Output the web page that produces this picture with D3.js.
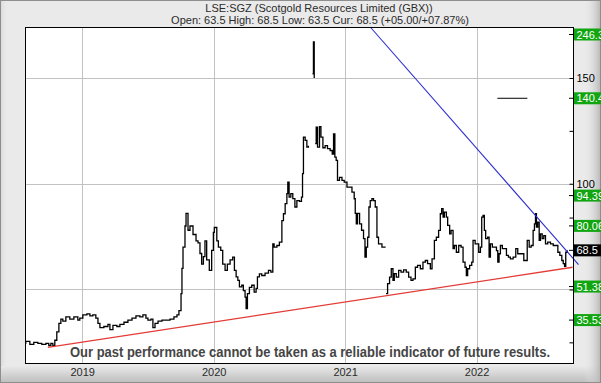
<!DOCTYPE html>
<html><head><meta charset="utf-8">
<script src="https://cdn.jsdelivr.net/npm/d3@7"></script>
<style>html,body{margin:0;padding:0;background:#eaeaea;}svg{display:block;font-family:"Liberation Sans",Arial,sans-serif;}</style>
</head><body>
<svg id="c" width="601" height="383"></svg>
<script>
// ---- data (decimal years, GBX) ----
const title = "LSE:SGZ (Scotgold Resources Limited (GBX))";
const subtitle = "Open: 63.5 High: 68.5 Low: 63.5 Cur: 68.5 (+05.00/+07.87%)";
const disclaimer = "Our past performance cannot be taken as a reliable indicator of future results.";
const yearTicks = [2019, 2020, 2021, 2022];
const gridValues = [50, 100, 150];
const labelledTicks = [100, 150];
const minorTicks = [25, 84, 125];
const dates = [
 2018.570,2018.571,2018.602,2018.632,2018.663,2018.693,2018.724,2018.746,2018.762,2018.777,2018.792,2018.807,2018.823,2018.838,2018.853,2018.876,2018.906,2018.937,2018.967,2018.982,
 2019.005,2019.036,2019.059,2019.081,2019.104,2019.120,2019.135,2019.165,2019.196,2019.211,2019.234,2019.264,2019.287,2019.318,2019.348,2019.379,2019.409,2019.439,2019.462,2019.485,
 2019.500,2019.523,2019.538,2019.554,2019.577,2019.607,2019.637,2019.668,2019.698,2019.721,2019.736,2019.752,2019.759,2019.767,2019.782,2019.790,2019.805,2019.820,2019.843,2019.866,
 2019.881,2019.896,2019.909,2019.922,2019.934,2019.947,2019.967,2019.985,2019.998,2020.005,2020.024,2020.036,2020.054,2020.069,2020.087,2020.104,2020.125,2020.145,2020.158,2020.171,
 2020.184,2020.196,2020.214,2020.226,2020.239,2020.247,2020.257,2020.272,2020.290,2020.308,2020.323,2020.333,2020.348,2020.366,2020.391,2020.417,2020.435,2020.450,2020.460,2020.481,
 2020.500,2020.519,2020.531,2020.544,2020.557,2020.564,2020.574,2020.587,2020.602,2020.618,2020.633,2020.653,2020.668,2020.676,2020.683,2020.696,2020.709,2020.721,2020.736,
 2020.752,2020.759,2020.765,2020.768,
 2020.772,2020.780,2020.790,2020.805,2020.816,2020.831,2020.848,2020.866,2020.886,2020.902,2020.912,2020.922,2020.932,2020.942,2020.957,2020.976,2020.993,
 2021.014,2021.033,2021.052,2021.069,2021.077,2021.085,2021.094,2021.110,2021.125,2021.140,2021.151,2021.161,2021.171,2021.181,2021.191,2021.204,2021.216,2021.229,2021.242,2021.254,2021.280,2021.308,2021.309,
 2021.311,2021.323,2021.338,2021.351,2021.364,2021.374,2021.389,2021.407,2021.425,2021.445,2021.465,2021.483,2021.501,2021.516,2021.534,2021.551,2021.572,2021.592,2021.610,2021.627,
 2021.648,2021.661,2021.679,2021.694,2021.711,2021.724,2021.734,2021.745,2021.755,2021.770,2021.780,2021.795,2021.806,2021.821,2021.831,2021.846,2021.864,2021.882,2021.897,2021.912,
 2021.922,2021.932,2021.947,2021.963,2021.973,2021.989,2022.004,2022.016,2022.029,2022.039,2022.049,2022.059,2022.069,2022.084,2022.095,2022.105,2022.120,2022.136,2022.151,2022.161,
 2022.171,2022.181,2022.196,2022.212,2022.227,2022.242,2022.257,2022.278,2022.298,2022.313,2022.328,2022.347,2022.359,2022.374,2022.385,2022.400,2022.415,2022.430,2022.440,2022.448,
 2022.455,2022.465,2022.476,2022.486,2022.499,2022.511,2022.524,2022.541,2022.562,2022.583,2022.600,2022.618,2022.633,2022.648,2022.659,2022.669,2022.678,2022.689
];
const prices = [
 24.5,25.5,24,25,24.5,24,24.5,23.5,24.5,23.5,26,30,34,36,35,37,36,37,35.5,36.5,
 38,38.5,37.5,38,36.5,34,32,32.5,33.5,31,33,32.5,33.5,34.5,35.5,36.5,37.5,37,38,36.5,
 35.5,36,32,34,35,35.5,35.5,36,37,38,40,48,60,70,80,86,78,80,76,73,
 72,67,62,65.5,73,64,59,68.5,77,79.3,73,70,68.5,62,59,62,64,65.3,59,56,
 54.3,51.2,52,49.5,46.4,41,48,51,52,48.7,50.5,56,57.4,56.6,57.7,59,58.2,71.6,70,70.8,
 72.4,82.6,85.8,90.6,95.3,100.8,93.7,95.3,93,89,92,91.7,93.7,104.8,122,120.5,117.3,118,null,
 152,167,150,null,
 119,126.8,117.3,127,122,117,118,116.6,115.7,114,123.6,112.6,111,101.6,103,101.6,100.8,
 98.4,98.4,96,92.9,86,81,86,81,78,74,65.3,70,74.7,89,92,93,92,89,74.7,71.6,70,70,null,
 48,52.8,55.8,59.8,54.3,57.5,55.8,59,58.2,59.3,58.2,55.8,54.3,55,60.5,61.4,59.8,62.9,63.7,62.2,
 59.8,64.5,73.2,74.7,77.9,85.8,88.2,84.2,86.6,84.2,80.3,76.3,77.9,69.3,70.8,67.6,70.8,70,62.9,60.5,
 56.6,59.8,61.4,62.9,73.2,71.6,71.6,67.6,70,84.2,85,77.9,74,74.7,65.3,71.6,70,70,68.4,62.9,
 66.9,70.8,69.3,69.3,66.1,65.3,64.5,65.3,69.3,66.9,66.9,66.9,63.7,63.7,73.2,70,70.8,77.9,81,85.8,
 79.5,81.8,73.2,76.3,74,75.5,71.6,72.4,71.6,70.8,70.8,67.6,66.1,63.7,62.2,60.9,67.6,68.5
];
const supportLine = [[2018.739, 22.6], [2022.730, 60.5]];
const resistLine = [[2021.191, 174.1], [2022.775, 61.8]];
const markLine = [[2022.158, 140.4], [2022.386, 140.4]];
const levelValues = [246.3, 140.4, 94.39, 80.06, 68.5, 51.38, 35.53];
const levelLabels = ["246.3", "140.4", "94.39", "80.06", "68.5", "51.38", "35.53"];
const levelIsCurrent = [false, false, false, false, true, false, false];

// ---- layout ----
const W = 601, H = 383;
const L = 25.5, R = 573.5, T = 27.5, B = 363.5;
const svg = d3.select("#c");
const defs = svg.append("defs");
const gB = defs.append("linearGradient").attr("id","gb").attr("x1",0).attr("y1",0).attr("x2",0).attr("y2",1);
gB.append("stop").attr("offset","0%").attr("stop-color","#e9e9e9");
gB.append("stop").attr("offset","100%").attr("stop-color","#bdbdbd");
const gR = defs.append("linearGradient").attr("id","gr").attr("x1",0).attr("y1",0).attr("x2",1).attr("y2",0);
gR.append("stop").attr("offset","0%").attr("stop-color","#e9e9e9").attr("stop-opacity",0);
gR.append("stop").attr("offset","100%").attr("stop-color","#b5b5b5").attr("stop-opacity",1);
const gL = defs.append("linearGradient").attr("id","gl").attr("x1",0).attr("y1",0).attr("x2",1).attr("y2",0);
gL.append("stop").attr("offset","0%").attr("stop-color","#d6d6d6");
gL.append("stop").attr("offset","100%").attr("stop-color","#eaeaea").attr("stop-opacity",0);

svg.append("rect").attr("x",0).attr("y",0).attr("width",W).attr("height",H).attr("fill","#eaeaea");
svg.append("rect").attr("x",0).attr("y",0).attr("width",8).attr("height",H).attr("fill","url(#gl)");
svg.append("rect").attr("x",0).attr("y",366).attr("width",W).attr("height",H-366).attr("fill","url(#gb)");
svg.append("rect").attr("x",584).attr("y",0).attr("width",W-584).attr("height",H).attr("fill","url(#gr)");
svg.append("rect").attr("x",0.5).attr("y",0.5).attr("width",W-1).attr("height",H-1).attr("fill","none").attr("stroke","#8e8e8e");

const x = d3.scaleLinear().domain([2018.569, 2022.737]).range([L, R]);
const y = d3.scaleLinear().domain([15, 174.1]).range([B, 27]);

svg.append("rect").attr("x",L).attr("y",T).attr("width",R-L).attr("height",B-T).attr("fill","#fff");

const clip = defs.append("clipPath").attr("id","plot");
clip.append("rect").attr("x",L).attr("y",T).attr("width",R-L).attr("height",B-T);

// gridlines
svg.append("g").selectAll("line").data(yearTicks).join("line")
  .attr("x1",d=>Math.round(x(d))+0.5).attr("x2",d=>Math.round(x(d))+0.5)
  .attr("y1",T).attr("y2",B).attr("stroke","#c2c2c2");
svg.append("g").selectAll("line").data(gridValues).join("line")
  .attr("x1",L).attr("x2",R)
  .attr("y1",d=>Math.round(y(d))+0.5).attr("y2",d=>Math.round(y(d))+0.5).attr("stroke","#c2c2c2");

const lineFn = d3.line().x(d=>x(d[0])).y(d=>y(d[1]));

// price series
const series = dates.map((d,i)=>[d, prices[i]]);
svg.append("path").datum(series)
  .attr("clip-path","url(#plot)")
  .attr("d", d3.line().defined(d=>d[1]!==null).curve(d3.curveStepAfter).x(d=>x(d[0])).y(d=>y(d[1])))
  .attr("fill","none").attr("stroke","#000").attr("stroke-width",1.3);

// trend lines
svg.append("path").datum(supportLine).attr("d",lineFn).attr("fill","none").attr("stroke","#e33b36").attr("stroke-width",1.3);
svg.append("path").datum(resistLine).attr("d",lineFn).attr("fill","none").attr("stroke","#2c2cd2").attr("stroke-width",1.1);
svg.append("path").datum(markLine).attr("d",lineFn).attr("fill","none").attr("stroke","#000").attr("stroke-width",1);

// border
svg.append("rect").attr("x",L).attr("y",T).attr("width",R-L).attr("height",B-T).attr("fill","none").attr("stroke","#000");

// right axis (major ticks; only 100 and 150 carry visible labels)
const ya = svg.append("g").attr("transform",`translate(${R},0)`)
  .call(d3.axisRight(y).tickValues(gridValues).tickSizeInner(-4).tickSizeOuter(0).tickPadding(3)
    .tickFormat(d => labelledTicks.includes(d) ? d3.format("d")(d) : ""));
ya.select(".domain").remove();
ya.selectAll("line").attr("stroke","#000");
ya.selectAll("text").attr("font-size","11px").attr("fill","#000").attr("font-family","'Liberation Sans',Arial,sans-serif");
const ym = svg.append("g").attr("transform",`translate(${R},0)`)
  .call(d3.axisRight(y).tickValues(minorTicks).tickSizeInner(-4).tickSizeOuter(0).tickFormat(""));
ym.select(".domain").remove();
ym.selectAll("line").attr("stroke","#000");

// level boxes
const lv = svg.append("g").selectAll("g").data(levelValues).join("g")
  .attr("transform",(d)=>`translate(${R+0.5},${Math.max(y(d), T+7)})`);
lv.append("line").attr("x1",-5).attr("x2",0).attr("y1",0).attr("y2",0).attr("stroke","#000");
lv.append("rect").attr("x",0).attr("y",-6).attr("width",W-R).attr("height",12)
  .attr("fill",(d,i)=>levelIsCurrent[i] ? "#000" : "#11a511");
lv.append("text").attr("x",2.5).attr("y",4).attr("font-size","11px").attr("fill","#fff")
  .text((d,i)=>levelLabels[i]);

// bottom axis
const xa = svg.append("g").attr("transform",`translate(0,${B})`)
  .call(d3.axisBottom(x).tickValues(yearTicks).tickSize(0).tickPadding(5).tickFormat(d3.format("d")));
xa.select(".domain").remove();
xa.selectAll("text").attr("font-size","11px").attr("fill","#2a2a2a").attr("font-family","'Liberation Sans',Arial,sans-serif");

// titles
svg.append("text").attr("x",319).attr("y",11.5).attr("text-anchor","middle").attr("font-size","11px").attr("fill","#2a2a2a").text(title);
svg.append("text").attr("x",320).attr("y",24).attr("text-anchor","middle").attr("font-size","11px").attr("fill","#2a2a2a").text(subtitle);

// disclaimer
svg.append("text").attr("x",70).attr("y",356.5).attr("font-size","14px").attr("font-weight","bold")
  .attr("fill","#454545").attr("textLength",480).attr("lengthAdjust","spacingAndGlyphs").text(disclaimer);
</script>
</body></html>
